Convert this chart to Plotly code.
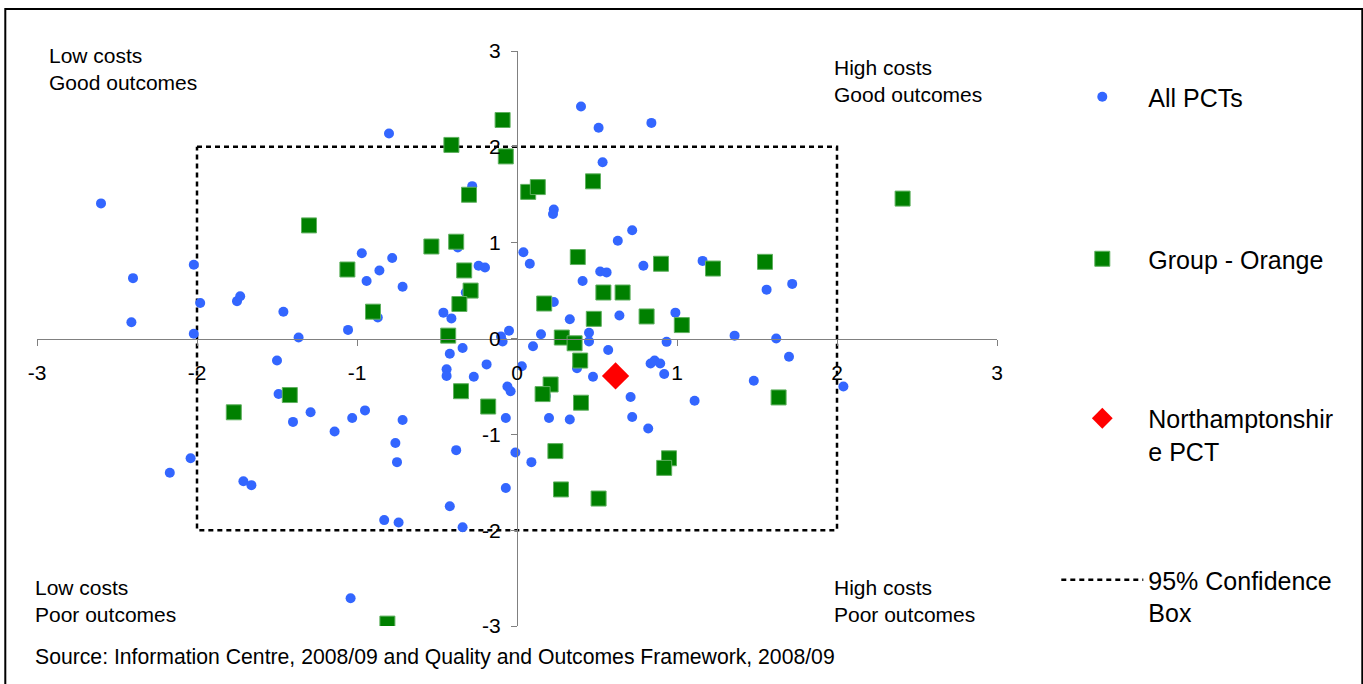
import plotly.graph_objects as go

# ---------------- data ----------------
all_x = [-2.60, -2.40, -2.41, -2.02, -1.98, -2.02, -1.75, -1.73, -1.46, -1.365,
         -1.056, -0.97, -0.94, -0.86, -0.78, -0.715, -0.87, -0.80, -0.46, -0.41,
         -0.28, -0.37, -0.24, -0.20, -0.32, -0.05, -0.10, -0.09, -0.42, -0.34,
         0.04, 0.08, 0.23, 0.225, 0.23, 0.15, 0.10, 0.40, 0.51, 0.84,
         0.535, 0.72, 0.63, 0.41, 0.52, 0.56, 0.79, 1.16, 1.56, 1.72,
         0.33, 0.64, 0.99, 0.45, 1.36, 0.45, 0.935, 0.57, 0.835, 0.86,
         0.895, 0.375, 0.475, 0.92, 0.18, 0.71, 1.11, 0.20, 0.33, 0.72,
         0.82, 1.62, 1.70, 1.48, 2.04, 0.03, -0.06, -0.04, -0.07, -0.01,
         0.09, -0.07, -0.19, -0.44, -0.44, -0.27, -0.715, -0.76, -0.75, -0.38,
         -0.42, -0.83, -0.74, -0.34, -1.50, -1.49, -1.40, -1.29, -1.14, -1.03,
         -0.95, -2.04, -2.17, -1.71, -1.66, -1.04]
all_y = [1.41, 0.63, 0.17, 0.77, 0.37, 0.05, 0.39, 0.44, 0.28, 0.01,
         0.09, 0.89, 0.60, 0.71, 0.84, 0.54, 0.22, 2.14, 0.27, 0.21,
         1.59, 0.95, 0.76, 0.74, 0.48, 0.08, 0.02, -0.03, -0.16, -0.10,
         0.90, 0.78, 1.345, 1.30, 0.38, 0.045, -0.08, 2.42, 2.20, 2.25,
         1.84, 1.13, 1.02, 0.60, 0.70, 0.69, 0.76, 0.81, 0.51, 0.57,
         0.20, 0.24, 0.27, 0.06, 0.03, -0.03, -0.035, -0.12, -0.26, -0.23,
         -0.26, -0.31, -0.40, -0.37, -0.60, -0.61, -0.65, -0.83, -0.845, -0.82,
         -0.94, 0.00, -0.19, -0.44, -0.50, -0.29, -0.50, -0.55, -0.83, -1.19,
         -1.29, -1.56, -0.27, -0.32, -0.39, -0.40, -0.85, -1.09, -1.29, -1.165,
         -1.75, -1.895, -1.92, -1.97, -0.23, -0.58, -0.87, -0.77, -0.97, -0.83,
         -0.75, -1.25, -1.40, -1.49, -1.53, -2.71]

orange_x = [-1.30, -1.06, -0.90, -0.535, -0.38, -0.41, -0.30, -0.33, -0.29, -0.36,
            -0.43, -0.09, -0.07, 0.07, 0.13, 0.475, 2.41, 0.38, 0.90, 1.225,
            1.55, 0.54, 0.66, 0.17, 0.48, 0.81, 1.03, 0.28, 0.36, 0.395,
            0.21, 0.16, 0.40, 0.24, 0.95, 0.92, 0.275, 0.51, 1.635, -1.42,
            -1.77, -0.35, -0.18, -0.81]
orange_y = [1.18, 0.72, 0.28, 0.96, 1.01, 2.02, 1.50, 0.71, 0.50, 0.36,
            0.03, 2.28, 1.90, 1.53, 1.58, 1.64, 1.46, 0.85, 0.78, 0.73,
            0.80, 0.48, 0.48, 0.365, 0.205, 0.23, 0.14, 0.01, -0.05, -0.23,
            -0.48, -0.58, -0.67, -1.175, -1.25, -1.35, -1.575, -1.67, -0.615, -0.59,
            -0.77, -0.55, -0.71, -2.975]

north_x = [0.616]
north_y = [-0.39]

box_x = [-2, 2, 2, -2, -2]
box_y = [2, 2, -2, -2, 2]

tick_vals = [-3, -2, -1, 0, 1, 2, 3]
tick_text = ["-3", "-2", "-1", "0", "1", "2", "3"]

series_names = ["All PCTs", "Group - Orange", "Northamptonshir<br>e PCT", "95% Confidence<br>Box"]
quadrant_labels = ["Low costs<br>Good outcomes", "High costs<br>Good outcomes",
                   "Low costs<br>Poor outcomes", "High costs<br>Poor outcomes"]
source_text = "Source: Information Centre, 2008/09 and Quality and Outcomes Framework, 2008/09"

FONT = "Liberation Sans, Arial, sans-serif"

# ---------------- figure ----------------
fig = go.Figure()

fig.add_trace(go.Scatter(
    x=box_x, y=box_y, mode="lines", name=series_names[3],
    line=dict(color="black", width=2.5, dash="5px,4px"),
    legend="legend4", hoverinfo="skip"))

fig.add_trace(go.Scatter(
    x=all_x, y=all_y, mode="markers", name=series_names[0],
    marker=dict(symbol="circle", size=10, color="#3366FF"),
    legend="legend"))

fig.add_trace(go.Scatter(
    x=orange_x, y=orange_y, mode="markers", name=series_names[1],
    marker=dict(symbol="square", size=15, color="#008000",
                line=dict(color="#5fb05f", width=1)),
    legend="legend2"))

fig.add_trace(go.Scatter(
    x=north_x, y=north_y, mode="markers", name=series_names[2],
    marker=dict(symbol="diamond", size=21, color="#FF0000"),
    legend="legend3"))

# plot area: x px 36.7..996.7, y px 51..626
ML, MT = 36.7, 51
PW, PH = 960, 575
W, H = 1363, 684


def px2paper_x(px):
    return (px - ML) / PW


def px2paper_y(py):
    return (MT + PH - py) / PH


axis_common = dict(
    range=[-3, 3], tickvals=tick_vals, ticktext=tick_text,
    showgrid=False, zeroline=False, showline=True,
    linecolor="#808080", linewidth=1,
    ticks="outside", ticklen=6, tickcolor="#808080", tickwidth=1,
    tickfont=dict(family=FONT, size=21, color="black"),
    anchor="free", position=0.5, fixedrange=True)

fig.update_xaxes(**axis_common, ticklabelstandoff=9)
fig.update_yaxes(**axis_common, ticklabelstandoff=6)

legend_common = dict(
    xanchor="left", yanchor="middle", itemwidth=82, valign="top",
    font=dict(family=FONT, size=25, color="black"),
    bgcolor="rgba(0,0,0,0)", borderwidth=0)
lx = px2paper_x(1056)

fig.update_layout(
    width=W, height=H,
    margin=dict(l=ML, r=W - ML - PW, t=MT, b=H - MT - PH, autoexpand=False),
    paper_bgcolor="white", plot_bgcolor="white",
    font=dict(family=FONT, size=21, color="black"),
    showlegend=True,
    legend=dict(x=lx, y=px2paper_y(97), **legend_common),
    legend2=dict(x=lx, y=px2paper_y(259), **legend_common),
    legend3=dict(x=lx, y=px2paper_y(434.5), **legend_common),
    legend4=dict(x=lx, y=px2paper_y(596), **legend_common),
)

# quadrant labels and source
ann_pos = [(47, 68.5), (832, 80.5), (33, 601), (832, 601)]
for txt, (px, py) in zip(quadrant_labels, ann_pos):
    fig.add_annotation(
        x=px2paper_x(px), y=px2paper_y(py), xref="paper", yref="paper",
        text=txt, showarrow=False, xanchor="left", yanchor="middle", align="left",
        font=dict(family=FONT, size=21, color="black"))

fig.add_annotation(
    x=px2paper_x(33), y=px2paper_y(657), xref="paper", yref="paper",
    text=source_text, showarrow=False, xanchor="left", yanchor="middle", align="left",
    font=dict(family=FONT, size=21.2, color="black"))

# outer frame
fig.add_shape(type="rect", xref="paper", yref="paper",
              x0=px2paper_x(5), x1=px2paper_x(1362),
              y0=px2paper_y(700), y1=px2paper_y(9),
              line=dict(color="black", width=2), fillcolor="rgba(0,0,0,0)")

fig.write_html("out.html",
               config={"displayModeBar": False},
               post_script="document.body.style.margin='0';document.body.style.overflow='hidden';")
